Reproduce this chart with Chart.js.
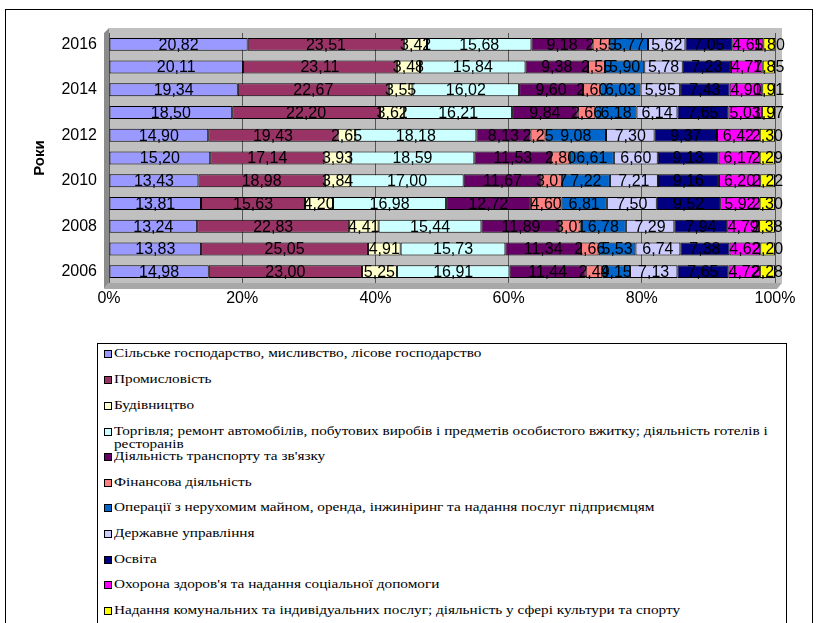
<!DOCTYPE html>
<html>
<head>
<meta charset="utf-8">
<script src="https://cdn.jsdelivr.net/npm/chart.js@4"></script>
<style>
  body { margin: 0; background: #fff; width: 816px; height: 623px; overflow: hidden; position: relative; }
  #frame { position: absolute; left: 5px; top: 9px; width: 806px; height: 630px; border: 1px solid #000; }
  #chart { position: absolute; left: 0; top: 0; }
  #legend { position: absolute; left: 97px; top: 343px; width: 688px; height: 290px; border: 1px solid #000;
            font-family: "Liberation Serif", "Times New Roman", serif; font-size: 12px; color: #000; }
  .item { position: absolute; left: 6px; line-height: 13px; padding-left: 10px; }
  .item i { position: absolute; left: 0; top: 3px; width: 6px; height: 6px; border: 1px solid #000; }
  .item span { display: inline-block; width: 528px; transform: scaleX(1.27); transform-origin: 0 0; }
</style>
</head>
<body>
<div id="frame"></div>
<canvas id="chart" width="816" height="320"></canvas>
<div id="legend"></div>
<script>
const years = ["2006", "2007", "2008", "2009", "2010", "2011", "2012", "2013", "2014", "2015", "2016"];

const sectors = [
  "Сільське господарство, мисливство, лісове господарство",
  "Промисловість",
  "Будівництво",
  "Торгівля; ремонт автомобілів, побутових виробів і предметів особистого вжитку; діяльність готелів і ресторанів",
  "Діяльність транспорту та зв'язку",
  "Фінансова діяльність",
  "Операції з нерухомим майном, оренда, інжиніринг та надання послуг підприємцям",
  "Державне управління",
  "Освіта",
  "Охорона здоров'я та надання соціальної допомоги",
  "Надання комунальних та індивідуальних послуг; діяльність у сфері культури та спорту",
];

const colors = ["#9999FF", "#993366", "#FFFFCC", "#CCFFFF", "#660066", "#FF8080",
                "#0066CC", "#CCCCFF", "#000080", "#FF00FF", "#FFFF00"];

// values by year, 2006 .. 2016
const agriculture = [14.98, 13.83, 13.24, 13.81, 13.43, 15.20, 14.90, 18.50, 19.34, 20.11, 20.82];
const industry    = [23.00, 25.05, 22.83, 15.63, 18.98, 17.14, 19.43, 22.20, 22.67, 23.11, 23.51];
const building    = [5.25, 4.91, 4.41, 4.20, 3.84, 3.93, 2.65, 3.62, 3.55, 3.48, 3.42];
const trade       = [16.91, 15.73, 15.44, 16.98, 17.00, 18.59, 18.18, 16.21, 16.02, 15.84, 15.68];
const transport   = [11.44, 11.34, 11.89, 12.72, 11.67, 11.53, 8.13, 9.84, 9.60, 9.38, 9.18];
const finance     = [2.49, 2.66, 3.01, 4.60, 3.07, 2.80, 2.25, 2.66, 2.60, 2.55, 2.55];
const realEstate  = [4.15, 5.53, 6.78, 6.81, 7.22, 6.61, 9.08, 6.18, 6.03, 5.90, 5.77];
const government  = [7.13, 6.74, 7.29, 7.50, 7.21, 6.60, 7.30, 6.14, 5.95, 5.78, 5.62];
const education   = [7.65, 7.38, 7.94, 9.52, 9.16, 9.13, 9.37, 7.65, 7.43, 7.23, 7.05];
const health      = [4.72, 4.62, 4.79, 5.92, 6.20, 6.17, 6.42, 5.03, 4.90, 4.77, 4.65];
const services    = [2.28, 2.20, 2.38, 2.30, 2.22, 2.29, 2.30, 1.97, 1.91, 1.85, 1.80];

const series = [agriculture, industry, building, trade, transport, finance,
                realEstate, government, education, health, services];

const xTicks = [0, 20, 40, 60, 80, 100];

const wallPlugin = {
  id: "wall",
  beforeDraw(chart) {
    const { ctx, chartArea: a } = chart;
    ctx.save();
    ctx.fillStyle = "#C0C0C0";
    ctx.fillRect(a.left, a.top - 5, a.right - a.left + 7, a.bottom - a.top + 5);
    ctx.fillStyle = "#8C8C8C";
    ctx.beginPath();
    ctx.moveTo(a.left - 5, a.top);
    ctx.lineTo(a.left, a.top - 5);
    ctx.lineTo(a.left, a.bottom);
    ctx.lineTo(a.left - 5, a.bottom + 6);
    ctx.closePath();
    ctx.fill();
    ctx.fillStyle = "#A8A8A8";
    ctx.beginPath();
    ctx.moveTo(a.left - 5, a.bottom + 6);
    ctx.lineTo(a.left, a.bottom);
    ctx.lineTo(a.right + 7, a.bottom);
    ctx.lineTo(a.right + 2, a.bottom + 6);
    ctx.closePath();
    ctx.fill();
    ctx.restore();
  },
};

const labelPlugin = {
  id: "barLabels",
  afterDatasetsDraw(chart) {
    const ctx = chart.ctx;
    ctx.save();
    ctx.font = "16px 'Liberation Sans', Arial, sans-serif";
    ctx.fillStyle = "#000";
    ctx.textAlign = "center";
    ctx.textBaseline = "middle";
    chart.data.datasets.forEach((ds, i) => {
      chart.getDatasetMeta(i).data.forEach((el, j) => {
        const txt = ds.data[j].toFixed(2).replace(".", ",");
        ctx.fillText(txt, (el.x + el.base) / 2, el.y + 1);
      });
    });
    ctx.restore();
  },
};

const ctx = document.getElementById("chart").getContext("2d");
new Chart(ctx, {
  type: "bar",
  data: {
    labels: years,
    datasets: series.map((vals, i) => ({
      label: sectors[i],
      data: vals,
      backgroundColor: colors[i],
      borderColor: "#000",
      borderWidth: 1,
      borderSkipped: false,
      barPercentage: 0.57,
      categoryPercentage: 1,
    })),
  },
  options: {
    indexAxis: "y",
    responsive: false,
    animation: false,
    layout: { padding: { top: 33, right: 41, left: 0, bottom: 0 } },
    plugins: { legend: { display: false }, tooltip: { enabled: false } },
    scales: {
      x: {
        stacked: true,
        min: 0,
        max: 100,
        afterBuildTicks: (s) => { s.ticks = xTicks.map((v) => ({ value: v })); },
        afterFit: (s) => { s.height = 37; },
        border: { display: false },
        grid: { color: "#555", drawTicks: false },
        ticks: {
          padding: 6,
          color: "#000",
          font: { family: "'Liberation Sans', Arial", size: 16 },
          callback: (v) => v + "%",
        },
      },
      y: {
        stacked: true,
        reverse: true,
        afterFit: (s) => { s.width = 109; },
        border: { display: false },
        grid: { display: false, drawTicks: false },
        ticks: {
          autoSkip: false,
          padding: 12,
          color: "#000",
          font: { family: "'Liberation Sans', Arial", size: 16 },
          callback: (v, i) => (i % 2 === 0 ? years[i] : ""),
        },
        title: {
          display: true,
          text: "Роки",
          color: "#000",
          font: { family: "'Liberation Sans', Arial", size: 15, weight: "bold" },
          padding: { top: 31, bottom: 0 },
        },
      },
    },
  },
  plugins: [wallPlugin, labelPlugin],
});

// legend below the chart, one entry per row
const tops = [3, 29, 55, 81, 106, 132, 157, 183, 209, 234, 260];
const legend = document.getElementById("legend");
sectors.forEach((name, i) => {
  const d = document.createElement("div");
  d.className = "item";
  d.style.top = tops[i] + "px";
  d.innerHTML = '<i style="background:' + colors[i] + '"></i><span>' + name + "</span>";
  legend.appendChild(d);
});
</script>
</body>
</html>
